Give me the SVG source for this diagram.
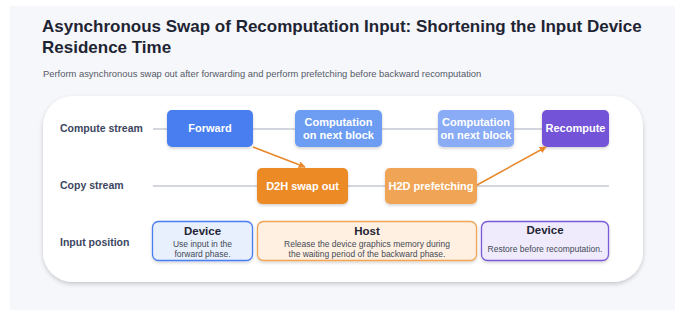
<svg xmlns="http://www.w3.org/2000/svg" width="684" height="314" viewBox="0 0 684 314">
<defs>
<filter id="sh" x="-10%" y="-10%" width="120%" height="130%"><feDropShadow dx="0" dy="1.5" stdDeviation="1.5" flood-color="#000" flood-opacity="0.18"/></filter>
<filter id="cs" x="-5%" y="-5%" width="110%" height="115%"><feDropShadow dx="0" dy="2" stdDeviation="2" flood-color="#000" flood-opacity="0.2"/></filter>
<marker id="ar" viewBox="0 0 10 10" refX="9" refY="5" markerWidth="7" markerHeight="7" orient="auto" markerUnits="userSpaceOnUse"><path d="M0,0 L10,5 L0,10 z" fill="#e8892c"/></marker>
<style>
.t{font-family:"Liberation Sans",Arial,sans-serif}
.title{font-size:17px;font-weight:bold;fill:#1f2433}
.sub{font-size:9.4px;fill:#555a66}
.lab{font-size:10.5px;font-weight:bold;fill:#3b4660}
.bt{font-size:11px;font-weight:bold;fill:#fff;text-anchor:middle}
.ht{font-size:11.5px;font-weight:bold;fill:#1f2433;text-anchor:middle}
.dt{font-size:8.5px;fill:#444a55;text-anchor:middle}
.lane{stroke:#d3d6de;stroke-width:2}
.conn{stroke:#e8892c;stroke-width:1.5;fill:none;marker-end:url(#ar)}
</style>
</defs>
<rect x="10" y="6" width="665" height="304" fill="#f5f7fb"/>
<text class="t title" x="42" y="32">Asynchronous Swap of Recomputation Input: Shortening the Input Device</text>
<text class="t title" x="42" y="53">Residence Time</text>
<text class="t sub" x="43" y="77">Perform asynchronous swap out after forwarding and perform prefetching before backward recomputation</text>
<rect x="43" y="96" width="600" height="186" rx="30" fill="#fff" filter="url(#cs)"/>
<g id="labels">
<text class="t lab" x="60" y="132">Compute stream</text>
<text class="t lab" x="60" y="189">Copy stream</text>
<text class="t lab" x="60" y="246">Input position</text>
</g>
<g id="lanes">
<line class="lane" x1="153" y1="129" x2="609" y2="129"/>
<line class="lane" x1="153" y1="186" x2="609" y2="186"/>
</g>
<g id="forward"><rect x="167" y="110" width="86" height="37" rx="5" fill="#4a7ef0" filter="url(#sh)"/><text class="t bt" x="210" y="132">Forward</text></g>
<g id="comp1"><rect x="295" y="110" width="87" height="37" rx="5" fill="#6d9df2" filter="url(#sh)"/><text class="t bt" x="338.5" y="126">Computation</text><text class="t bt" x="338.5" y="139">on next block</text></g>
<g id="comp2"><rect x="438" y="110" width="76" height="37" rx="5" fill="#8aacf6" filter="url(#sh)"/><text class="t bt" x="476" y="126">Computation</text><text class="t bt" x="476" y="139">on next block</text></g>
<g id="recompute"><rect x="542" y="110" width="67" height="37" rx="5" fill="#7352d8" filter="url(#sh)"/><text class="t bt" x="575.5" y="132">Recompute</text></g>
<g id="d2h"><rect x="257" y="168" width="91" height="36" rx="5" fill="#ec8a28" filter="url(#sh)"/><text class="t bt" x="302.5" y="190">D2H swap out</text></g>
<g id="h2d"><rect x="385" y="168" width="92" height="36" rx="5" fill="#f0a456" filter="url(#sh)"/><text class="t bt" x="431" y="190">H2D prefetching</text></g>
<g id="connectors">
<line class="conn" x1="253" y1="147" x2="305" y2="167"/>
<line class="conn" x1="477" y1="185" x2="546" y2="147"/>
</g>
<g id="dev1"><rect x="152.5" y="221.5" width="100" height="39" rx="6" fill="#e8f0fe" stroke="#4a7ef0" stroke-width="1.3" filter="url(#sh)"/><text class="t ht" x="202.5" y="235">Device</text><text class="t dt" x="202.5" y="246.5">Use input in the</text><text class="t dt" x="202.5" y="257">forward phase.</text></g>
<g id="host"><rect x="257.5" y="221.5" width="219" height="39" rx="6" fill="#fff0e2" stroke="#f0a456" stroke-width="1.3" filter="url(#sh)"/><text class="t ht" x="367" y="235">Host</text><text class="t dt" x="367" y="246.5">Release the device graphics memory during</text><text class="t dt" x="367" y="257">the waiting period of the backward phase.</text></g>
<g id="dev2"><rect x="481.5" y="221.5" width="127" height="39" rx="6" fill="#efebfd" stroke="#7a5ad8" stroke-width="1.3" filter="url(#sh)"/><text class="t ht" x="545" y="234">Device</text><text class="t dt" x="545" y="252">Restore before recomputation.</text></g>
</svg>
